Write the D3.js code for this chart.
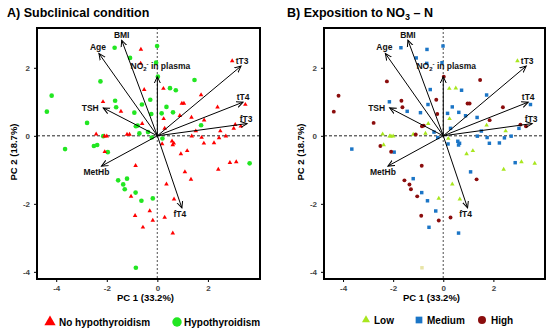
<!DOCTYPE html>
<html>
<head>
<meta charset="utf-8">
<script src="https://d3js.org/d3.v7.min.js"></script>
<style>
  body { margin: 0; background: #fff; }
  text { font-family: "Liberation Sans", Arial, sans-serif; font-weight: bold; }
</style>
</head>
<body>
<div id="chart"></div>
<script>
// PCA scores of the samples (same samples in both panels)
var pc1 = [-1.69, -0.01, -1.08, -0.05, 0.02, -2.25, 1.47, 0.50, 0.73, -4.18,
  -4.37, -1.67, -0.28, -1.63, -0.61, 0.36, -0.91, -0.24, 0.17, 0.62,
  -2.78, -0.85, -0.78, 1.73, -0.37, -2.14, -0.71, -0.22, 0.20, -3.65,
  -2.51, -2.38, -1.96, 3.65, -1.55, -1.20, -1.35, -1.29, -0.86, -0.63,
  -0.18, -0.85,
  -0.65, -0.66, 2.96, -0.52, 0.24, 1.73, -2.15, 0.97, 1.05, 3.48,
  2.38, -1.44, 1.35, 0.89, 1.85, 0.25, -0.60, 3.02, 3.08, 3.30,
  2.49, 1.52, 0.29, -2.42, -2.09, -2.00, -1.20, -1.10, 1.36, 1.75,
  2.44, 2.71, 0.19, 0.58, 0.65, 0.61, 0.93, 1.18, 1.84, 2.24,
  -2.08, -0.86, 1.09, 2.41, 2.87, 3.12, 1.33, 0.36, -1.04, 0.66,
  -0.30, -0.88, 0.29, -0.18, -0.57, 0.61];
var pc2 = [2.59, 2.64, 2.29, 2.15, 1.74, 1.60, 1.64, 1.40, 1.34, 1.18,
  0.71, 1.03, 1.06, 0.84, 0.92, 0.85, 0.68, 0.64, 0.66, 0.69,
  0.38, 0.28, 0.30, 0.31, 0.11, -0.01, 0.07, -0.05, -0.08, -0.39,
  -0.30, -0.27, -0.48, -0.81, -1.31, -1.26, -1.43, -1.57, -1.67, -1.91,
  -1.84, -3.88,
  2.54, 2.13, 2.20, 1.36, 1.39, 1.20, 1.00, 0.95, 0.95, 0.92,
  0.84, 0.72, 0.54, 0.59, 0.46, 0.50, 0.36, 0.22, 0.33, 0.28,
  0.14, 0.14, 0.22, 0.05, -0.01, -0.01, 0.04, 0.04, -0.01, -0.05,
  -0.06, -0.01, -0.24, -0.16, -0.22, -0.27, -0.53, -0.44, -0.22, -0.21,
  -0.47, -0.88, -1.06, -0.99, -0.79, -0.77, -1.28, -1.42, -1.78, -1.86,
  -2.21, -2.35, -2.40, -2.49, -2.69, -2.86];
var thyroid = [
  "Hypo","Hypo","Hypo","Hypo","Hypo","Hypo","Hypo","Hypo","Hypo","Hypo",
  "Hypo","Hypo","Hypo","Hypo","Hypo","Hypo","Hypo","Hypo","Hypo","Hypo",
  "Hypo","Hypo","Hypo","Hypo","Hypo","Hypo","Hypo","Hypo","Hypo","Hypo",
  "Hypo","Hypo","Hypo","Hypo","Hypo","Hypo","Hypo","Hypo","Hypo","Hypo",
  "Hypo","Hypo",
  "No","No","No","No","No","No","No","No","No","No",
  "No","No","No","No","No","No","No","No","No","No",
  "No","No","No","No","No","No","No","No","No","No",
  "No","No","No","No","No","No","No","No","No","No",
  "No","No","No","No","No","No","No","No","No","No",
  "No","No","No","No","No","No"];
var exposure = [
  "Medium","Medium","Medium","Medium","High","High","High","Low","Medium","High",
  "High","High","High","High","Medium","Medium","Medium","High","Medium","Medium",
  "High","High","High","Low","Medium","Low","Low","Medium","Low","Medium",
  "High","Low","Medium","Low","High","Medium","High","High","Medium","Medium",
  "Low","NA",
  "Medium","Medium","Low","Medium","Low","Medium","Medium","High","High","Medium",
  "High","Medium","Medium","Medium","High","Low","Low","Medium","High","High",
  "Low","Medium","Medium","Low","Low","Low","Low","High","Medium","Medium",
  "Medium","Medium","Medium","Medium","Medium","Medium","Low","Low","Medium","Medium",
  "High","High","Medium","Low","Medium","Low","High","Low","High","Low",
  "Medium","High","High","High","Medium","Medium"];

// variable loadings (arrows)
var loadNames = ["BMI", "Age", "NO2", "tT3", "tT4", "fT3", "TSH", "MetHb", "fT4"];
var loadX = [-1.41, -2.31, 0.00, 3.31, 3.39, 3.55, -2.14, -2.21, 0.97];
var loadY = [2.81, 2.42, 1.74, 2.05, 0.99, 0.36, 0.82, -0.89, -2.12];

var xTicks = [-4, -2, 0, 2];
var yTicks = [-4, -2, 0, 2];

// label placement next to arrow tips (px)
var labelOffset = {
  BMI: [0, -5.5], Age: [-1, -7], NO2: [3, -11], tT3: [1, -5], tT4: [0, -5],
  fT3: [-1, -5], TSH: [-13, 0.5], MetHb: [-5, 6], fT4: [-2, 6.5]
};

var thyroidStyle = {
  No:   { type: d3.symbolTriangle, size: 9, color: "#ff0000" },
  Hypo: { type: d3.symbolCircle, size: 17, color: "#22e622" }
};
var exposureStyle = {
  Low:    { type: d3.symbolTriangle, size: 9, color: "#a8e61e" },
  Medium: { type: d3.symbolSquare, size: 12, color: "#1b75c6" },
  High:   { type: d3.symbolCircle, size: 12, color: "#8b0d0d" },
  NA:     { type: d3.symbolSquare, size: 12, color: "#e8e4a6" }
};

var svg = d3.select("#chart")
  .append("svg")
    .attr("width", 550)
    .attr("height", 328);

svg.append("defs").append("marker")
    .attr("id", "arrow")
    .attr("viewBox", "0 -4 8 8")
    .attr("refX", 6.5)
    .attr("refY", 0)
    .attr("markerWidth", 8)
    .attr("markerHeight", 8)
    .attr("markerUnits", "userSpaceOnUse")
    .attr("orient", "auto")
  .append("path")
    .attr("d", "M0,-3L6.5,0L0,3")
    .attr("fill", "none")
    .attr("stroke", "#000")
    .attr("stroke-width", 1);

var samples = pc1.map(function(d, i) {
  return { x: d, y: pc2[i], thyroid: thyroid[i], exposure: exposure[i] };
});
var loadings = loadNames.map(function(d, i) {
  return { name: d, x: loadX[i], y: loadY[i] };
});

function drawPanel(left, right, groupKey, styles) {
  var top = 28, bottom = 279;
  var x = d3.scaleLinear().domain([-4.76, 4.06]).range([left, right]);
  var y = d3.scaleLinear().domain([-4.21, 3.17]).range([bottom, top]);
  var g = svg.append("g");

  // axes
  g.append("g")
    .attr("transform", "translate(0," + bottom + ")")
    .call(d3.axisBottom(x).tickValues(xTicks).tickSize(3).tickPadding(3)
      .tickFormat(function(d) { return String(d); }))
    .call(function(a) {
      a.select(".domain").remove();
      a.selectAll("text").attr("font-size", 8).attr("fill", "#444");
    });
  g.append("g")
    .attr("transform", "translate(" + left + ",0)")
    .call(d3.axisLeft(y).tickValues(yTicks).tickSize(3).tickPadding(4)
      .tickFormat(function(d) { return String(d); }))
    .call(function(a) {
      a.select(".domain").remove();
      a.selectAll("text").attr("font-size", 8).attr("fill", "#444");
    });

  // zero lines
  g.append("line")
    .attr("x1", left).attr("x2", right)
    .attr("y1", y(0)).attr("y2", y(0))
    .attr("stroke", "#222").attr("stroke-dasharray", "3,2");
  g.append("line")
    .attr("x1", x(0)).attr("x2", x(0))
    .attr("y1", top).attr("y2", bottom)
    .attr("stroke", "#777").attr("stroke-width", 1.3).attr("stroke-dasharray", "2,2");

  // samples
  g.selectAll(".pt")
    .data(samples)
    .enter().append("path")
      .attr("class", "pt")
      .attr("transform", function(d) { return "translate(" + x(d.x) + "," + y(d.y) + ")"; })
      .attr("d", function(d) {
        var s = styles[d[groupKey]];
        return d3.symbol().type(s.type).size(s.size)();
      })
      .attr("fill", function(d) { return styles[d[groupKey]].color; });

  // loading arrows
  g.selectAll(".arr")
    .data(loadings)
    .enter().append("line")
      .attr("x1", x(0)).attr("y1", y(0))
      .attr("x2", function(d) { return x(d.x); })
      .attr("y2", function(d) { return y(d.y); })
      .attr("stroke", "#000")
      .attr("stroke-width", 1)
      .attr("marker-end", "url(#arrow)");

  loadings.forEach(function(d) {
    var off = labelOffset[d.name];
    var t = g.append("text")
      .attr("x", x(d.x) + off[0])
      .attr("y", y(d.y) + off[1] + 3)
      .attr("text-anchor", "middle")
      .attr("font-size", 8.5)
      .attr("fill", "#111");
    if (d.name == "NO2") {
      t.append("tspan").text("NO");
      t.append("tspan").attr("font-size", 6).attr("dy", 2).text("2");
      t.append("tspan").attr("font-size", 6).attr("dy", -5).text("-");
      t.append("tspan").attr("dy", 3).text(" in plasma");
    } else {
      t.text(d.name);
    }
  });

  // frame
  g.append("rect")
    .attr("x", left).attr("y", top)
    .attr("width", right - left).attr("height", bottom - top)
    .attr("fill", "none")
    .attr("stroke", "#000")
    .attr("stroke-width", 2);

  // axis titles
  g.append("text")
    .attr("x", (left + right) / 2 - 3)
    .attr("y", 301)
    .attr("text-anchor", "middle")
    .attr("font-size", 9.5)
    .text("PC 1 (33.2%)");
  g.append("text")
    .attr("transform", "translate(" + (left - 20) + "," + 152 + ") rotate(-90)")
    .attr("text-anchor", "middle")
    .attr("font-size", 9.5)
    .text("PC 2 (18.7%)");
  return g;
}

drawPanel(37, 260, "thyroid", thyroidStyle);
drawPanel(324, 545, "exposure", exposureStyle);

// panel titles
svg.append("text")
  .attr("x", 7).attr("y", 16.5)
  .attr("font-size", 12.5)
  .text("A) Subclinical condition");
var tb = svg.append("text")
  .attr("x", 287).attr("y", 16.5)
  .attr("font-size", 12.5);
tb.append("tspan").text("B) Exposition to NO");
tb.append("tspan").attr("font-size", 9).attr("dy", 3).text("3");
tb.append("tspan").attr("dy", -3).text(" \u2013 N");

// legends
var legA = [
  { label: "No hypothyroidism", key: "No", mx: 50, tx: 59 },
  { label: "Hypothyroidism", key: "Hypo", mx: 177, tx: 184 }
];
var legB = [
  { label: "Low", key: "Low", mx: 366, tx: 374 },
  { label: "Medium", key: "Medium", mx: 419, tx: 427 },
  { label: "High", key: "High", mx: 482, tx: 491 }
];
function drawLegend(items, styles, cy, sizes) {
  items.forEach(function(d, i) {
    var s = styles[d.key];
    svg.append("path")
      .attr("transform", "translate(" + d.mx + "," + cy + ")")
      .attr("d", d3.symbol().type(s.type).size(sizes[i])())
      .attr("fill", s.color);
    svg.append("text")
      .attr("x", d.tx).attr("y", cy + 4)
      .attr("font-size", 10)
      .text(d.label);
  });
}
drawLegend(legA, thyroidStyle, 322, [55, 70]);
drawLegend(legB, exposureStyle, 320, [28, 45, 50]);
</script>
</body>
</html>
